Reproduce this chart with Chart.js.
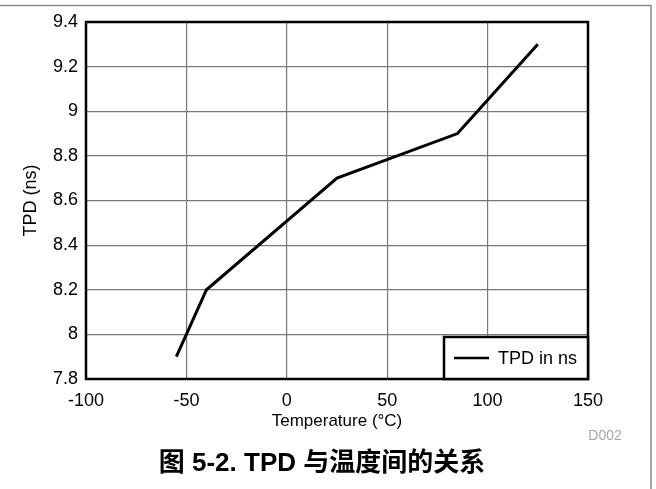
<!DOCTYPE html>
<html>
<head>
<meta charset="utf-8">
<script src="https://cdn.jsdelivr.net/npm/chart.js@4/dist/chart.umd.min.js"></script>
<style>
  html, body { margin: 0; padding: 0; background: #fff; }
  #wrap { position: relative; width: 656px; height: 489px; }
</style>
</head>
<body>
<div id="wrap"><canvas id="c" width="656" height="489"></canvas></div>
<script>
const temperatures = [-55, -40, 25, 85, 125];
const tpdValues = [7.9, 8.2, 8.7, 8.9, 9.3];
const seriesLabel = 'TPD in ns';
const xTicks = [-100, -50, 0, 50, 100, 150];
const yTicks = [7.8, 8, 8.2, 8.4, 8.6, 8.8, 9, 9.2, 9.4];
const xTitle = 'Temperature (°C)';
const yTitle = 'TPD (ns)';
const figTitle = '图 5-2. TPD 与温度间的关系';
const figCode = 'D002';

const FONT = "'Liberation Sans', Arial, Helvetica, sans-serif";

const frame = {
  id: 'frame',
  beforeDraw(chart) {
    const ctx = chart.ctx;
    ctx.save();
    ctx.fillStyle = '#fff';
    ctx.fillRect(0, 0, chart.width, chart.height);
    ctx.restore();
  },
  afterDatasetsDraw(chart) {
    const ctx = chart.ctx;
    const a = chart.chartArea;
    ctx.save();
    ctx.strokeStyle = '#000';
    ctx.lineWidth = 2.5;
    ctx.strokeRect(a.left, a.top, a.right - a.left, a.bottom - a.top);
    const lw = 144, lh = 42;
    const lx = a.right - lw, ly = a.bottom - lh;
    ctx.fillStyle = '#fff';
    ctx.fillRect(lx, ly, lw, lh);
    ctx.strokeRect(lx, ly, lw, lh);
    ctx.beginPath();
    ctx.lineWidth = 2.5;
    ctx.moveTo(lx + 10, ly + lh / 2);
    ctx.lineTo(lx + 45, ly + lh / 2);
    ctx.stroke();
    ctx.fillStyle = '#000';
    ctx.font = '18px ' + FONT;
    ctx.textAlign = 'left';
    ctx.textBaseline = 'middle';
    ctx.fillText(chart.data.datasets[0].label, lx + 54, ly + lh / 2 + 1);
    ctx.strokeStyle = '#8a8a8a';
    ctx.lineWidth = 1.5;
    ctx.beginPath();
    ctx.moveTo(0, 5.5);
    ctx.lineTo(651, 5.5);
    ctx.lineTo(651, chart.height);
    ctx.stroke();
    ctx.fillStyle = '#a6a6a6';
    ctx.font = '14px ' + FONT;
    ctx.textAlign = 'center';
    ctx.fillText(figCode, 605, 436);
    ctx.fillStyle = '#000';
    ctx.font = "bold 26px 'Liberation Sans', Arial, 'Noto Sans CJK SC', sans-serif";
    ctx.fillText(figTitle, 322, 464);
    ctx.restore();
  }
};

new Chart(document.getElementById('c'), {
  type: 'line',
  data: {
    datasets: [{
      label: seriesLabel,
      data: temperatures.map((t, i) => ({ x: t, y: tpdValues[i] })),
      borderColor: '#000',
      backgroundColor: '#000',
      borderWidth: 3,
      pointRadius: 0,
      tension: 0,
      fill: false
    }]
  },
  options: {
    responsive: false,
    animation: false,
    devicePixelRatio: 1,
    layout: { padding: { left: 0, top: 22, right: 68, bottom: 50 } },
    plugins: { legend: { display: false }, title: { display: false }, tooltip: { enabled: false } },
    scales: {
      x: {
        type: 'linear',
        min: -100, max: 150,
        afterBuildTicks(s) { s.ticks = xTicks.map(v => ({ value: v })); },
        afterFit(s) { s.height = 60; },
        grid: { color: '#777', lineWidth: 1.2, drawTicks: false },
        border: { display: false },
        ticks: { color: '#000', font: { family: FONT, size: 18 }, padding: 11, maxRotation: 0, autoSkip: false },
        title: { display: true, text: xTitle, color: '#000', font: { family: FONT, size: 17 }, padding: { top: 0, bottom: 7 } }
      },
      y: {
        type: 'linear',
        min: 7.8, max: 9.4,
        afterBuildTicks(s) { s.ticks = yTicks.map(v => ({ value: v })); },
        afterFit(s) { s.width = 86; },
        grid: { color: '#777', lineWidth: 1.2, drawTicks: false },
        border: { display: false },
        ticks: { color: '#000', font: { family: FONT, size: 18 }, padding: 8, autoSkip: false,
                 callback: v => String(Math.round(v * 10) / 10) },
        title: { display: true, text: yTitle, color: '#000', font: { family: FONT, size: 18 }, padding: { top: 20, bottom: 0 } }
      }
    }
  },
  plugins: [frame]
});
</script>
</body>
</html>
